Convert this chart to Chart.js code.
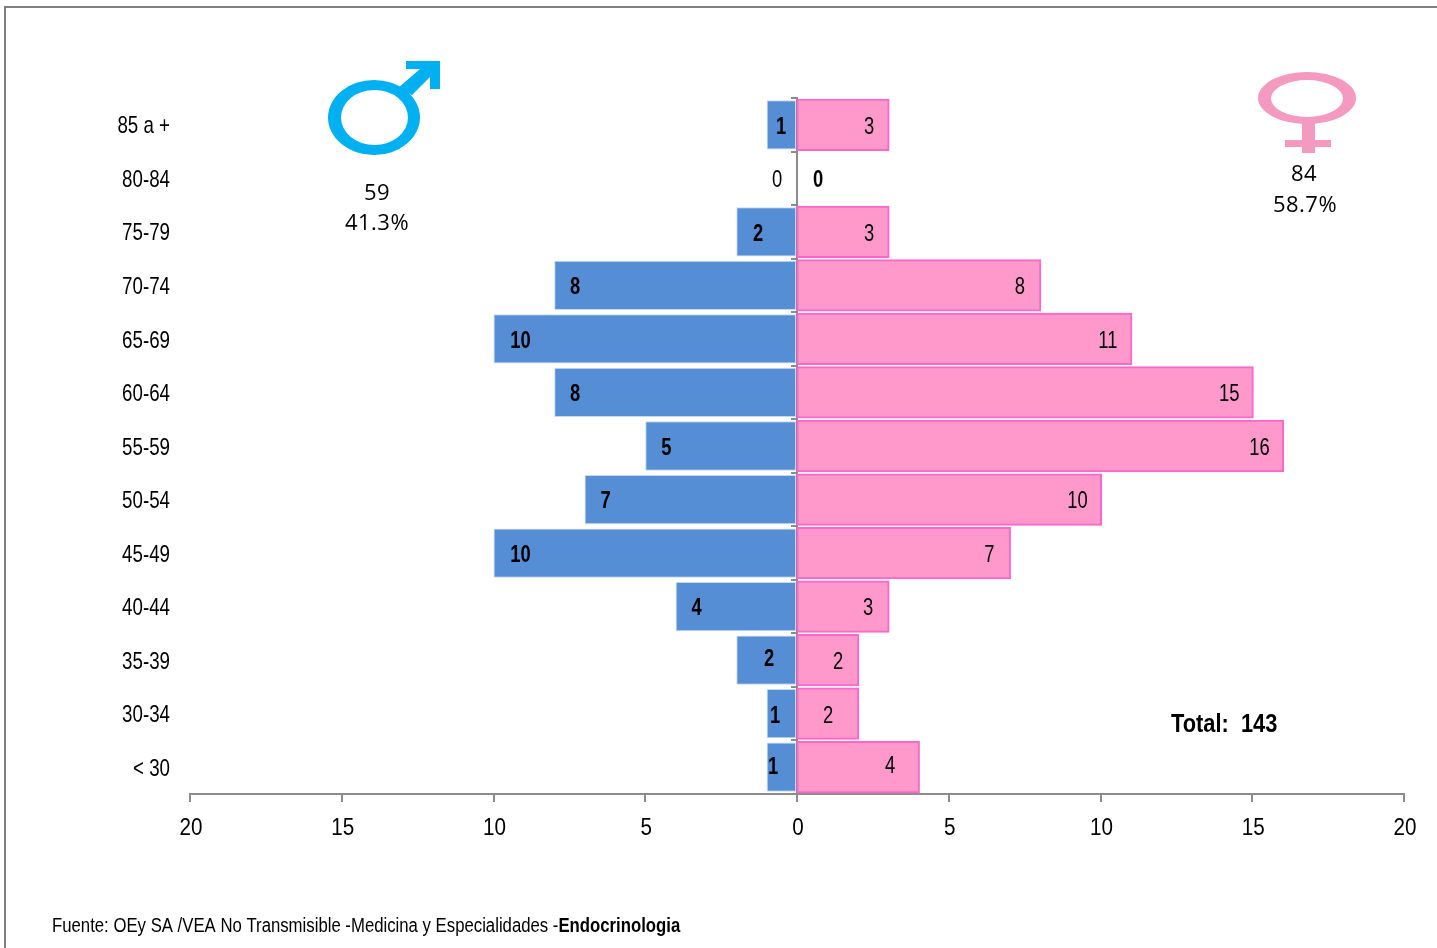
<!DOCTYPE html>
<html><head><meta charset="utf-8">
<style>
html,body{margin:0;padding:0;background:#fff;width:1437px;height:948px;overflow:hidden}
#wrap{position:relative;width:1437px;height:948px}
#frame{position:absolute;left:4px;top:6px;width:1440px;height:950px;border:2px solid #7f7f7f;box-sizing:border-box}
canvas{position:absolute;left:0;top:0}
</style>
<script src="https://cdn.jsdelivr.net/npm/chart.js@4"></script>
</head><body><div id="wrap"><div id="frame"></div><canvas id="c" width="1437" height="948"></canvas></div>
<script>
const categories = ['85 a +','80-84','75-79','70-74','65-69','60-64','55-59','50-54','45-49','40-44','35-39','30-34','< 30'];
const maleValues = [1,0,2,8,10,8,5,7,10,4,2,1,1];
const femaleValues = [3,0,3,8,11,15,16,10,7,3,2,2,4];
const maleLabelX = [-16,-20,-39,0,0,0,0,0,0,0,-28,-22,-24];
const femaleLabelX = [72,21,72,0,0,0,0,0,0,0,41,31,93];
const maleLabelDy = [0,0,0,0,0,0,0,0,0,0,-3,0,-2];
const femaleLabelDy = [0,0,0,0,0,0,0,0,0,0,0,0,-3];
const FONT = '"Liberation Sans",Arial,sans-serif';
const GRAY = '#8c8c8c';

// Horizontally condensed text: the reference uses a narrow face that is not installed.
let squeeze = null;
const canvas = document.getElementById('c');
const rawCtx = canvas.getContext('2d');
const nativeFill = rawCtx.fillText.bind(rawCtx);
rawCtx.fillText = function(t,x,y){
  const isRight = rawCtx.textAlign==='right';
  const sx = squeeze!==null ? squeeze : (isRight ? 0.78 : 0.86);
  const dy = squeeze!==null ? 0 : (isRight ? 2 : 0);
  const dx = squeeze!==null || isRight ? 0 : 1;
  rawCtx.save();
  rawCtx.translate(x+dx,y+dy);
  rawCtx.scale(sx,1);
  nativeFill(t,0,0);
  rawCtx.restore();
};

const overlay = {
  id:'overlay',
  afterDraw(chart){
    const {ctx,scales:{x,y}} = chart;
    ctx.save();
    ctx.textBaseline='middle'; ctx.textAlign='center'; ctx.fillStyle='#000';
    squeeze = 0.8;
    categories.forEach((c,i)=>{
      const py = y.getPixelForValue(i)+2.5;
      const mv = maleValues[i], fv = femaleValues[i];
      const mx = maleLabelX[i] ? x.getPixelForValue(0)+maleLabelX[i] : x.getPixelForValue(-mv)+(mv>=10?27:21);
      const fx = femaleLabelX[i] ? x.getPixelForValue(0)+femaleLabelX[i] : x.getPixelForValue(fv)-(fv>=10?23:20);
      ctx.font = (mv===0?'':'bold ')+'23px '+FONT;
      ctx.fillText(String(mv),mx,py+maleLabelDy[i]);
      ctx.font = (fv===0?'bold ':'')+'23px '+FONT;
      ctx.fillText(String(fv),fx,py+femaleLabelDy[i]);
    });
    // male symbol
    ctx.fillStyle='#00b0f0';
    ctx.beginPath();
    ctx.ellipse(374,117.5,46,37.5,0,0,Math.PI*2);
    ctx.ellipse(374.5,117.5,33.5,27.5,0,0,Math.PI*2);
    ctx.fill('evenodd');
    ctx.beginPath();
    [[406,61],[440,61],[440,89],[430,89],[430,77],[412,95],[398,88],[420,69],[406,69]].forEach((p,i)=>i?ctx.lineTo(p[0],p[1]):ctx.moveTo(p[0],p[1]));
    ctx.closePath(); ctx.fill();
    // female symbol
    ctx.fillStyle='#f49ac1';
    ctx.beginPath();
    ctx.ellipse(1307,98,49,26,0,0,Math.PI*2);
    ctx.ellipse(1307,98.5,36,18.5,0,0,Math.PI*2);
    ctx.fill('evenodd');
    ctx.fillRect(1302,122,13,31);
    ctx.fillRect(1285,140,46,7);
    // notes
    squeeze = 1;
    ctx.fillStyle='#000';
    ctx.font='22px "Open Sans",sans-serif';
    ctx.letterSpacing='0.5px';
    ctx.fillText('59',377,194); ctx.fillText('41.3%',377,224);
    ctx.fillText('84',1304,175); ctx.fillText('58.7%',1305,206);
    ctx.letterSpacing='0px';
    ctx.textAlign='left';
    squeeze = 0.84;
    ctx.font='bold 26px '+FONT;
    ctx.fillText('Total:  143',1171,725);
    squeeze = 0.837;
    ctx.font='20px '+FONT;
    const src = 'Fuente: OEy SA /VEA No Transmisible -Medicina y Especialidades -';
    ctx.fillText(src,52,926);
    const w = ctx.measureText(src).width*squeeze;
    ctx.font='bold 20px '+FONT;
    ctx.fillText('Endocrinologia',52+w,926);
    squeeze = null;
    ctx.restore();
  }
};

new Chart(canvas,{
  type:'bar',
  data:{labels:categories,datasets:[
    {label:'Hombres',data:maleValues.map(v=>-v),backgroundColor:'#558ed5',borderColor:'#c6d9f1',borderWidth:1,borderSkipped:false},
    {label:'Mujeres',data:femaleValues,backgroundColor:'#ff99cc',borderColor:'#ff66cc',borderWidth:2,borderSkipped:false,inflateAmount:1.5}
  ]},
  options:{
    indexAxis:'y',responsive:false,animation:false,
    layout:{padding:{left:0,right:33,top:98,bottom:0}},
    datasets:{bar:{barPercentage:0.92,categoryPercentage:1}},
    plugins:{legend:{display:false},tooltip:{enabled:false}},
    scales:{
      x:{type:'linear',min:-20,max:20,stacked:true,
        afterFit(s){s.height=154;},
        border:{color:GRAY,width:2},
        grid:{drawOnChartArea:false,color:GRAY,tickColor:GRAY,tickLength:8,lineWidth:2},
        ticks:{stepSize:5,padding:12,maxRotation:0,color:'#000',font:{family:FONT,size:24},callback:v=>Math.abs(v)}},
      y:{type:'category',labels:categories,stacked:true,offset:true,
        afterFit(s){s.width=190;},
        border:{display:false},
        grid:{display:false,drawTicks:false},
        ticks:{autoSkip:false,padding:20,color:'#000',font:{family:FONT,size:24}}},
      yc:{type:'category',axis:'y',labels:categories,position:{x:0},offset:true,z:1,
        border:{color:GRAY,width:2},
        grid:{offset:true,drawOnChartArea:false,tickColor:GRAY,tickLength:5,lineWidth:2},
        ticks:{display:false}}
    }
  },
  plugins:[overlay]
});
</script></body></html>
